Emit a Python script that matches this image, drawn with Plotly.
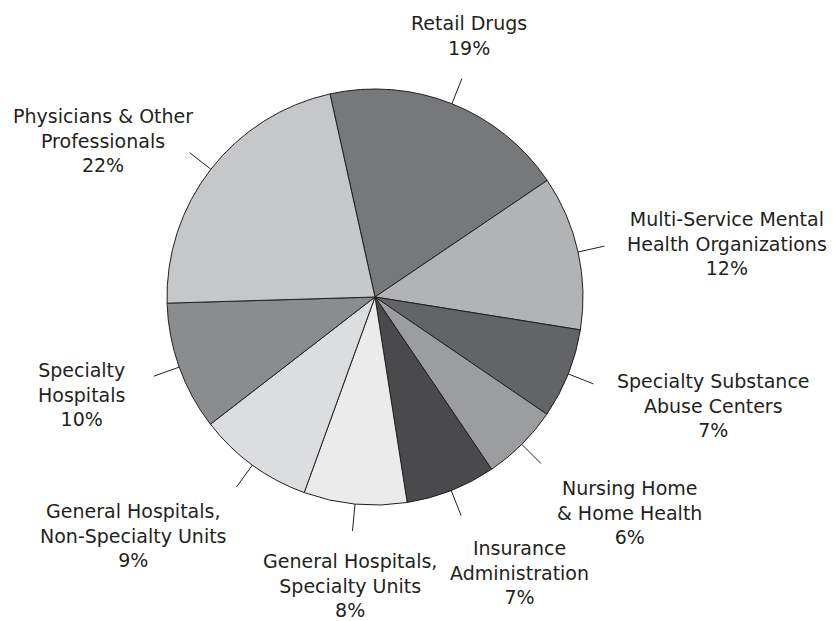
import math
import plotly.graph_objects as go

# Mental health spending by provider / setting (share of total, %)
categories = [
    "Retail Drugs",
    "Multi-Service Mental Health Organizations",
    "Specialty Substance Abuse Centers",
    "Nursing Home & Home Health",
    "Insurance Administration",
    "General Hospitals, Specialty Units",
    "General Hospitals, Non-Specialty Units",
    "Specialty Hospitals",
    "Physicians & Other Professionals",
]
label_lines = [
    ["Retail Drugs"],
    ["Multi-Service Mental", "Health Organizations"],
    ["Specialty Substance", "Abuse Centers"],
    ["Nursing Home", "& Home Health"],
    ["Insurance", "Administration"],
    ["General Hospitals,", "Specialty Units"],
    ["General Hospitals,", "Non-Specialty Units"],
    ["Specialty", "Hospitals"],
    ["Physicians & Other", "Professionals"],
]
shares = [19, 12, 7, 6, 7, 8, 9, 10, 22]

slice_colors = ["#77787a", "#b1b3b5", "#636466", "#9c9d9f", "#4a4a4c",
                "#ebebeb", "#dcdddf", "#8b8c8e", "#c6c7c9"]

# Canvas and pie geometry (pixels)
W, H = 833, 621
CX, CY, R = 375, 297, 208
START_DEG = -12.5          # first slice starts slightly left of 12 o'clock
LEADER = 27                # leader line length beyond the rim
INK = "#231f20"

# Label block centre relative to the outer end of each leader line
label_offsets = [(7, -43), (123, -3), (120, 22), (89, 49), (58, 57),
                 (-2, 55), (-103, 49), (-72, 18), (-87, -12)]

fig = go.Figure()
fig.add_trace(go.Pie(
    labels=categories,
    values=shares,
    sort=False,
    direction="clockwise",
    rotation=START_DEG,
    marker=dict(colors=slice_colors, line=dict(color=INK, width=1)),
    textinfo="none",
    hoverinfo="label+percent",
    showlegend=False,
    domain=dict(x=[(CX - R) / W, (CX + R) / W],
                y=[1 - (CY + R) / H, 1 - (CY - R) / H]),
))

total = sum(shares)
cum = 0.0
for name_lines, val, (dx, dy) in zip(label_lines, shares, label_offsets):
    mid = START_DEG + 360.0 * (cum + val / 2.0) / total
    cum += val
    a = math.radians(mid)
    x0, y0 = CX + R * math.sin(a), CY - R * math.cos(a)
    x1, y1 = CX + (R + LEADER) * math.sin(a), CY - (R + LEADER) * math.cos(a)
    fig.add_shape(type="line", x0=x0, y0=y0, x1=x1, y1=y1,
                  xref="x", yref="y", line=dict(color=INK, width=1))
    pct = f"{round(100 * val / total)}%"
    fig.add_annotation(
        x=x1 + dx, y=y1 + dy, xref="x", yref="y",
        text="<br>".join(name_lines + [pct]),
        showarrow=False, xanchor="center", yanchor="middle", align="center",
        font=dict(family="DejaVu Sans", size=19, color=INK),
    )

fig.update_layout(
    width=W, height=H,
    margin=dict(l=0, r=0, t=0, b=0),
    paper_bgcolor="white", plot_bgcolor="white",
    xaxis=dict(range=[0, W], visible=False, fixedrange=True),
    yaxis=dict(range=[H, 0], visible=False, fixedrange=True),
)

fig.write_html("out.html")
